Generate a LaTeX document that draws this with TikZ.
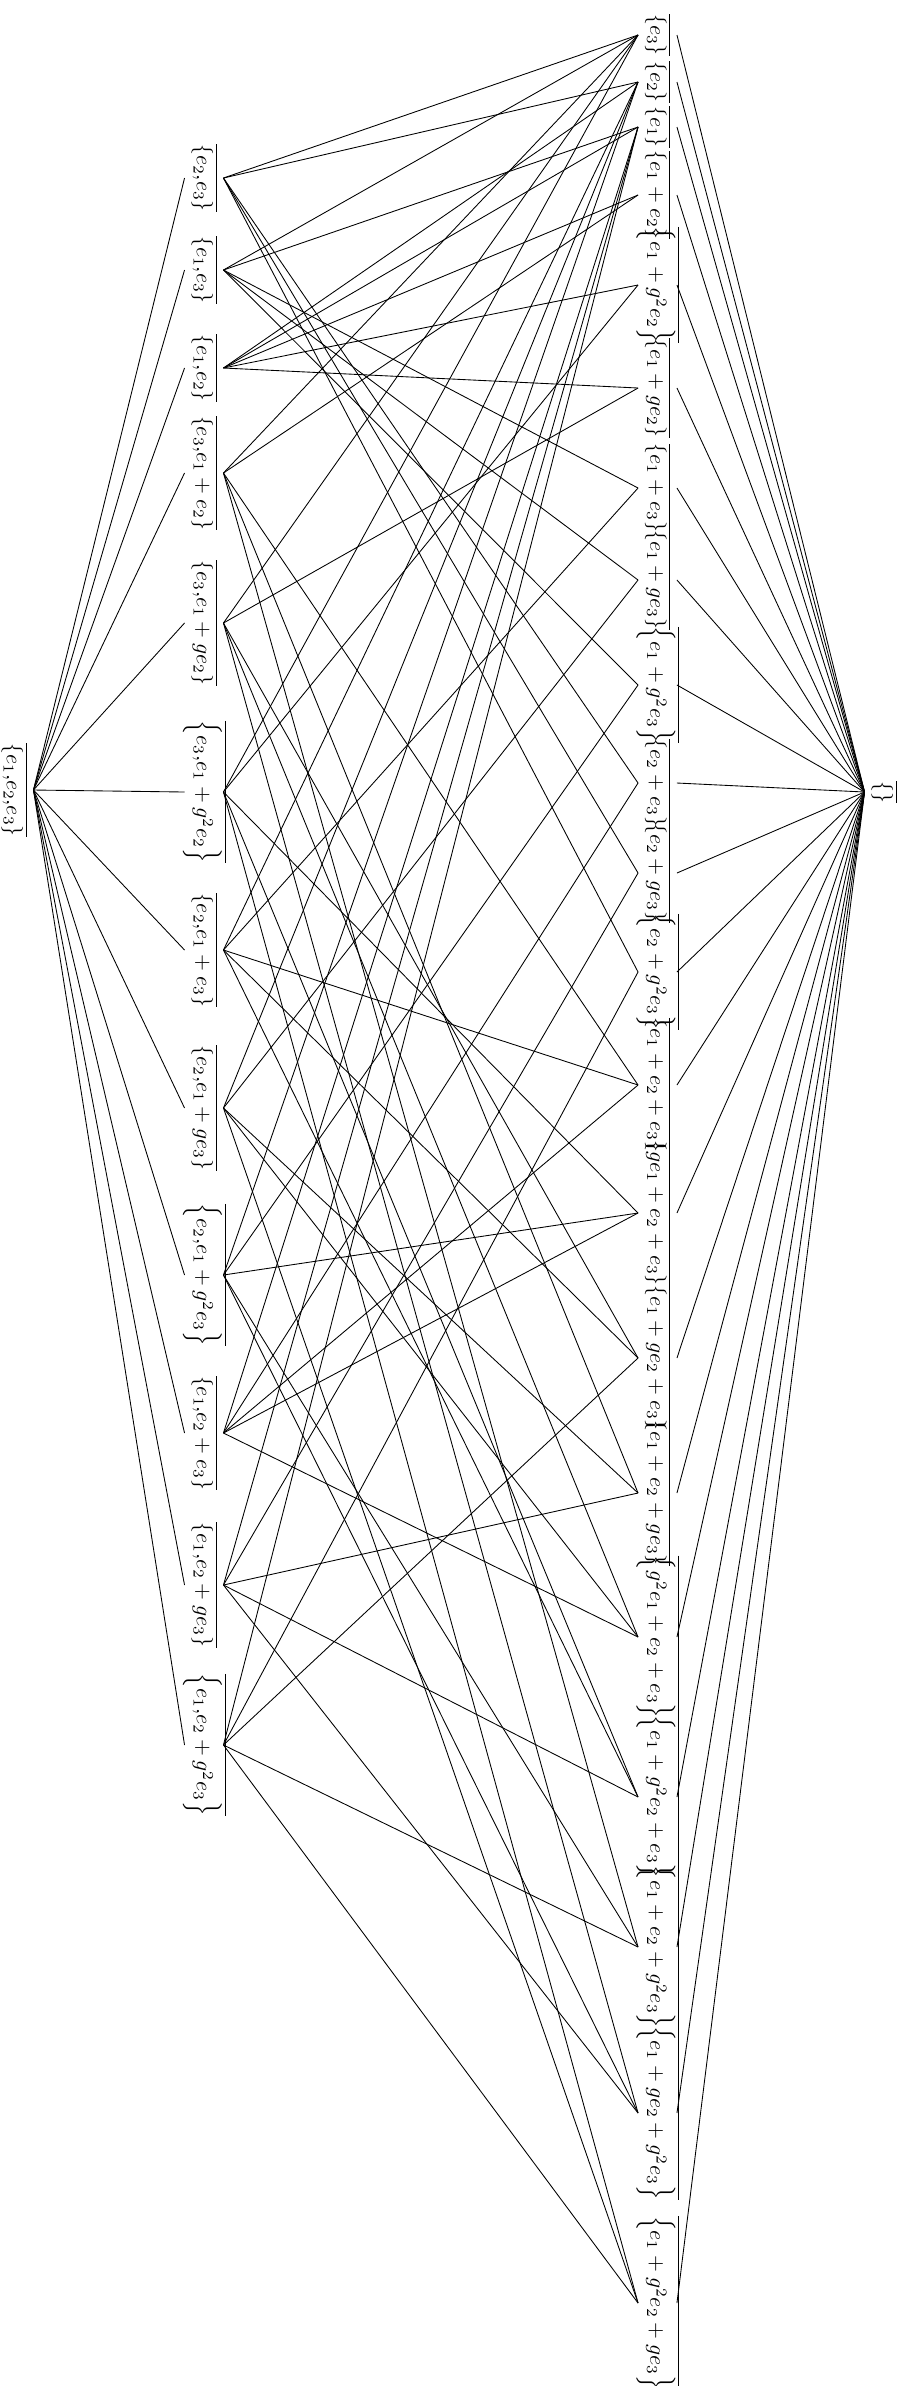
\documentclass[tikz,border=0pt]{standalone}
\usepackage{amsmath, amssymb}
\usepackage{tikz}

\begin{document}
\begin{tikzpicture}[
      x=0.46pt, y=-0.46pt,
      elem/.style={rectangle, rotate=-90, inner sep=0pt, text height=12pt, text depth=5.5pt, align=center},
      line/.style={draw, black}
    ]
      \useasboundingbox (0,0) rectangle (903,2386);
      % whole space and zero space
      \node (full) [elem] at (14,790) {$\overline{\left\{e_1{,}e_2{,}e_3\right\}}$};
      \node (zero) [elem] at (884,792) {$\overline{\left\{\right\}}$};

      % planes
      \node (p1) [elem] at (204,178) {$\overline{\left\{e_2{,}e_3\right\}}$};
      \node (p2) [elem] at (204,270) {$\overline{\left\{e_1{,}e_3\right\}}$};
      \node (p3) [elem] at (204,368) {$\overline{\left\{e_1{,}e_2\right\}}$};
      \node (p4) [elem] at (204,473) {$\overline{\left\{e_3{,}e_1+e_2\right\}}$};
      \node (p5) [elem] at (204,623) {$\overline{\left\{e_3{,}e_1+ge_2\right\}}$};
      \node (p6) [elem] at (204,792) {$\overline{\Bigl\{e_3{,}e_1+g^2e_2\Bigr\}}$};
      \node (p7) [elem] at (204,950) {$\overline{\left\{e_2{,}e_1+e_3\right\}}$};
      \node (p8) [elem] at (204,1108) {$\overline{\left\{e_2{,}e_1+ge_3\right\}}$};
      \node (p9) [elem] at (204,1275) {$\overline{\Bigl\{e_2{,}e_1+g^2e_3\Bigr\}}$};
      \node (p10) [elem] at (204,1433) {$\overline{\left\{e_1{,}e_2+e_3\right\}}$};
      \node (p11) [elem] at (204,1585) {$\overline{\left\{e_1{,}e_2+ge_3\right\}}$};
      \node (p12) [elem] at (204,1745) {$\overline{\Bigl\{e_1{,}e_2+g^2e_3\Bigr\}}$};

      % points
      \node (q1) [elem] at (657.5,35) {$\overline{\left\{e_3\right\}}$};
      \node (q2) [elem] at (657.5,82) {$\overline{\left\{e_2\right\}}$};
      \node (q3) [elem] at (657.5,127) {$\overline{\left\{e_1\right\}}$};
      \node (q4) [elem] at (657.5,195) {$\overline{\left\{e_1+e_2\right\}}$};
      \node (q5) [elem] at (657.5,285) {$\overline{\Bigl\{e_1+g^2e_2\Bigr\}}$};
      \node (q6) [elem] at (657.5,388) {$\overline{\left\{e_1+ge_2\right\}}$};
      \node (q7) [elem] at (657.5,488) {$\overline{\left\{e_1+e_3\right\}}$};
      \node (q8) [elem] at (657.5,580) {$\overline{\left\{e_1+ge_3\right\}}$};
      \node (q9) [elem] at (657.5,685) {$\overline{\Bigl\{e_1+g^2e_3\Bigr\}}$};
      \node (q10) [elem] at (657.5,783) {$\overline{\left\{e_2+e_3\right\}}$};
      \node (q11) [elem] at (657.5,873) {$\overline{\left\{e_2+ge_3\right\}}$};
      \node (q12) [elem] at (657.5,972) {$\overline{\Bigl\{e_2+g^2e_3\Bigr\}}$};
      \node (q13) [elem] at (657.5,1085) {$\overline{\left\{e_1+e_2+e_3\right\}}$};
      \node (q14) [elem] at (657.5,1213) {$\overline{\left\{ge_1+e_2+e_3\right\}}$};
      \node (q15) [elem] at (657.5,1358) {$\overline{\left\{e_1+ge_2+e_3\right\}}$};
      \node (q16) [elem] at (657.5,1493) {$\overline{\left\{e_1+e_2+ge_3\right\}}$};
      \node (q17) [elem] at (657.5,1637) {$\overline{\Bigl\{g^2e_1+e_2+e_3\Bigr\}}$};
      \node (q18) [elem] at (657.5,1797) {$\overline{\Bigl\{e_1+g^2e_2+e_3\Bigr\}}$};
      \node (q19) [elem] at (657.5,1947) {$\overline{\Bigl\{e_1+e_2+g^2e_3\Bigr\}}$};
      \node (q20) [elem] at (657.5,2113) {$\overline{\Bigl\{e_1+ge_2+g^2e_3\Bigr\}}$};
      \node (q21) [elem] at (657.5,2303) {$\overline{\Bigl\{e_1+g^2e_2+ge_3\Bigr\}}$};

      % whole space to planes
      \draw[line] (full.north) -- (p1.south);
      \draw[line] (full.north) -- (p2.south);
      \draw[line] (full.north) -- (p3.south);
      \draw[line] (full.north) -- (p4.south);
      \draw[line] (full.north) -- (p5.south);
      \draw[line] (full.north) -- (p6.south);
      \draw[line] (full.north) -- (p7.south);
      \draw[line] (full.north) -- (p8.south);
      \draw[line] (full.north) -- (p9.south);
      \draw[line] (full.north) -- (p10.south);
      \draw[line] (full.north) -- (p11.south);
      \draw[line] (full.north) -- (p12.south);

      % planes to points
      \draw[line] (p1.north) -- (q2.south);
      \draw[line] (p1.north) -- (q1.south);
      \draw[line] (p1.north) -- (q10.south);
      \draw[line] (p1.north) -- (q11.south);
      \draw[line] (p1.north) -- (q12.south);
      \draw[line] (p2.north) -- (q3.south);
      \draw[line] (p2.north) -- (q1.south);
      \draw[line] (p2.north) -- (q7.south);
      \draw[line] (p2.north) -- (q8.south);
      \draw[line] (p2.north) -- (q9.south);
      \draw[line] (p3.north) -- (q3.south);
      \draw[line] (p3.north) -- (q2.south);
      \draw[line] (p3.north) -- (q4.south);
      \draw[line] (p3.north) -- (q5.south);
      \draw[line] (p3.north) -- (q6.south);
      \draw[line] (p4.north) -- (q1.south);
      \draw[line] (p4.north) -- (q4.south);
      \draw[line] (p4.north) -- (q13.south);
      \draw[line] (p4.north) -- (q16.south);
      \draw[line] (p4.north) -- (q19.south);
      \draw[line] (p5.north) -- (q1.south);
      \draw[line] (p5.north) -- (q6.south);
      \draw[line] (p5.north) -- (q15.south);
      \draw[line] (p5.north) -- (q17.south);
      \draw[line] (p5.north) -- (q20.south);
      \draw[line] (p6.north) -- (q1.south);
      \draw[line] (p6.north) -- (q5.south);
      \draw[line] (p6.north) -- (q14.south);
      \draw[line] (p6.north) -- (q18.south);
      \draw[line] (p6.north) -- (q21.south);
      \draw[line] (p7.north) -- (q2.south);
      \draw[line] (p7.north) -- (q7.south);
      \draw[line] (p7.north) -- (q13.south);
      \draw[line] (p7.north) -- (q15.south);
      \draw[line] (p7.north) -- (q18.south);
      \draw[line] (p8.north) -- (q2.south);
      \draw[line] (p8.north) -- (q8.south);
      \draw[line] (p8.north) -- (q16.south);
      \draw[line] (p8.north) -- (q17.south);
      \draw[line] (p8.north) -- (q21.south);
      \draw[line] (p9.north) -- (q2.south);
      \draw[line] (p9.north) -- (q9.south);
      \draw[line] (p9.north) -- (q14.south);
      \draw[line] (p9.north) -- (q19.south);
      \draw[line] (p9.north) -- (q20.south);
      \draw[line] (p10.north) -- (q3.south);
      \draw[line] (p10.north) -- (q10.south);
      \draw[line] (p10.north) -- (q13.south);
      \draw[line] (p10.north) -- (q14.south);
      \draw[line] (p10.north) -- (q17.south);
      \draw[line] (p11.north) -- (q3.south);
      \draw[line] (p11.north) -- (q11.south);
      \draw[line] (p11.north) -- (q16.south);
      \draw[line] (p11.north) -- (q18.south);
      \draw[line] (p11.north) -- (q20.south);
      \draw[line] (p12.north) -- (q3.south);
      \draw[line] (p12.north) -- (q12.south);
      \draw[line] (p12.north) -- (q15.south);
      \draw[line] (p12.north) -- (q19.south);
      \draw[line] (p12.north) -- (q21.south);

      % points to zero space
      \draw[line] (q1.north) -- (zero.south);
      \draw[line] (q2.north) -- (zero.south);
      \draw[line] (q3.north) -- (zero.south);
      \draw[line] (q4.north) -- (zero.south);
      \draw[line] (q5.north) -- (zero.south);
      \draw[line] (q6.north) -- (zero.south);
      \draw[line] (q7.north) -- (zero.south);
      \draw[line] (q8.north) -- (zero.south);
      \draw[line] (q9.north) -- (zero.south);
      \draw[line] (q10.north) -- (zero.south);
      \draw[line] (q11.north) -- (zero.south);
      \draw[line] (q12.north) -- (zero.south);
      \draw[line] (q13.north) -- (zero.south);
      \draw[line] (q14.north) -- (zero.south);
      \draw[line] (q15.north) -- (zero.south);
      \draw[line] (q16.north) -- (zero.south);
      \draw[line] (q17.north) -- (zero.south);
      \draw[line] (q18.north) -- (zero.south);
      \draw[line] (q19.north) -- (zero.south);
      \draw[line] (q20.north) -- (zero.south);
      \draw[line] (q21.north) -- (zero.south);
    \end{tikzpicture}
\end{document}
